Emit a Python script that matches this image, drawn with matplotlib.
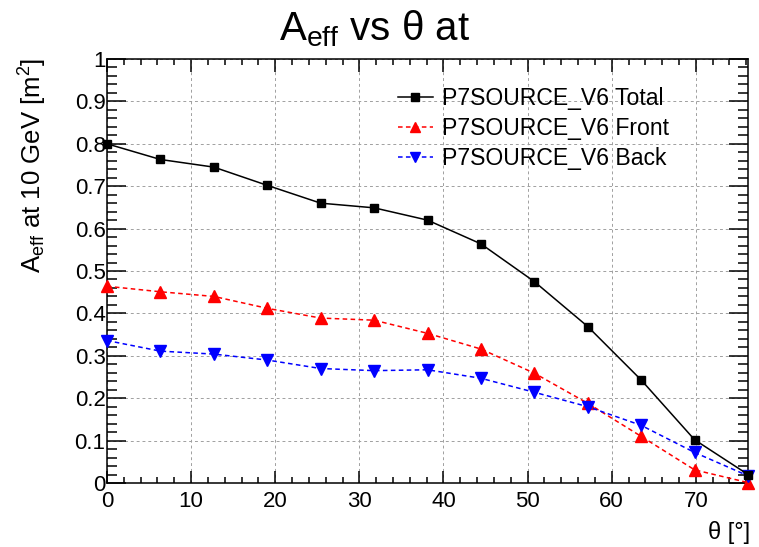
import matplotlib
matplotlib.use("Agg")
import matplotlib.pyplot as plt
from matplotlib.ticker import MultipleLocator

plt.rcParams['font.family'] = ['Liberation Sans', 'DejaVu Sans']
plt.rcParams['mathtext.fontset'] = 'custom'
plt.rcParams['mathtext.rm'] = 'Liberation Sans'
plt.rcParams['mathtext.it'] = 'Liberation Sans:italic'

# theta bin centres [deg]
theta = [0.0, 6.35, 12.7, 19.05, 25.4, 31.75, 38.1, 44.45, 50.8, 57.15, 63.5, 69.85, 76.2]

# effective area at 10 GeV [m^2]
aeff_total = [0.800, 0.763, 0.745, 0.702, 0.660, 0.649, 0.620, 0.564, 0.475, 0.369, 0.243, 0.102, 0.020]
aeff_front = [0.464, 0.451, 0.440, 0.412, 0.389, 0.384, 0.353, 0.316, 0.259, 0.188, 0.110, 0.031, 0.001]
aeff_back = [0.336, 0.311, 0.304, 0.290, 0.270, 0.265, 0.267, 0.247, 0.214, 0.180, 0.136, 0.072, 0.017]

labels = ["P7SOURCE_V6 Total", "P7SOURCE_V6 Front", "P7SOURCE_V6 Back"]

fig = plt.figure(figsize=(7.59, 5.47), dpi=100)
ax = fig.add_axes([107 / 759, 1 - 483 / 547, (748 - 107) / 759, (483 - 59) / 547])

dash = (0, (3.0, 2.2))
ax.plot(theta, aeff_total, color='black', lw=1.1, marker='s', ms=6,
        label=labels[0], clip_on=False, zorder=5)
ax.plot(theta, aeff_front, color='red', lw=1.1, ls=dash, marker='^', ms=8,
        label=labels[1], clip_on=False, zorder=4)
ax.plot(theta, aeff_back, color='blue', lw=1.1, ls=dash, marker='v', ms=8,
        label=labels[2], clip_on=False, zorder=4)

ax.set_xlim(0, 76.2)
ax.set_ylim(0, 1)

ax.xaxis.set_major_locator(MultipleLocator(10))
ax.xaxis.set_minor_locator(MultipleLocator(2))
ax.yaxis.set_major_locator(MultipleLocator(0.1))
ax.yaxis.set_minor_locator(MultipleLocator(0.02))
ax.set_yticks([0, 0.1, 0.2, 0.3, 0.4, 0.5, 0.6, 0.7, 0.8, 0.9, 1.0])
ax.set_yticklabels(['0', '0.1', '0.2', '0.3', '0.4', '0.5', '0.6', '0.7', '0.8', '0.9', '1'])

ax.tick_params(axis='both', which='both', direction='in', top=True, right=True,
               labelsize=16, width=1.1, colors='black')
ax.tick_params(axis='x', which='major', length=9, pad=6)
ax.tick_params(axis='x', which='minor', length=4.5)
ax.tick_params(axis='y', which='major', length=13.5, pad=1)
ax.tick_params(axis='y', which='minor', length=7.5)

for sp in ax.spines.values():
    sp.set_linewidth(1.1)

ax.grid(True, which='major', color='#a0a0a0', ls=(0, (3, 3)), lw=0.7)
ax.set_axisbelow(True)

fig.text(0.494, 0.948, r'$\mathrm{A_{eff}}$ vs θ at', ha='center', va='center', fontsize=29)
fig.text(750 / 759, 1 - 532 / 547, 'θ [°]', ha='right', va='center', fontsize=17)
fig.text(33 / 759, 1 - 58 / 547, r'$\mathrm{A_{eff}}$ at 10 GeV [m$^{2}$]',
         ha='center', va='top', rotation=90, fontsize=18.5)

ax.legend(loc='upper left', bbox_to_anchor=(398 / 759, 1 - 87 / 547),
          bbox_transform=fig.transFigure, frameon=False, fontsize=16.6,
          handlelength=1.5, handletextpad=0.42, labelspacing=0.3,
          borderpad=0, borderaxespad=0, markerscale=0.85)

fig.savefig('out.png', dpi=100)
